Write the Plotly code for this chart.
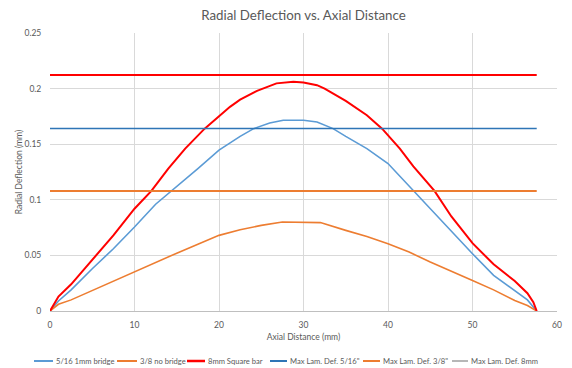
import plotly.graph_objects as go

# Measured curves (x in mm, y in mm)
x_blue = [0, 1, 2.5, 5, 7.5, 10, 12.5, 14.4, 17.5, 20, 22.5, 24.1, 26, 27.6, 30, 31.6, 33.5,
          35, 37.5, 40, 43, 45, 47.5, 50, 52.5, 55, 56.5, 57.6]
y_blue = [0, 0.009, 0.019, 0.038, 0.056, 0.0755, 0.096, 0.108, 0.128, 0.1446, 0.157, 0.164, 0.169,
          0.1716, 0.1716, 0.170, 0.164, 0.157, 0.146, 0.1326, 0.108, 0.092, 0.072, 0.0515, 0.032,
          0.0185, 0.010, 0]

x_orange = [0, 1, 2.5, 5, 7.5, 10, 12.5, 15, 17.5, 20, 22.5, 25, 27.5, 30, 32, 35, 37.5, 40,
            42.5, 45, 47.5, 50, 52.5, 55, 56.5, 57.6]
y_orange = [0, 0.006, 0.010, 0.0185, 0.027, 0.035, 0.044, 0.052, 0.060, 0.068, 0.073, 0.077,
            0.080, 0.080, 0.0795, 0.0725, 0.067, 0.0605, 0.053, 0.044, 0.036, 0.0275, 0.019,
            0.0095, 0.005, 0]

x_red = [0, 1, 2.5, 5, 7.5, 10, 12, 14, 16, 18.3, 20, 21.3, 22.5, 24.5, 26.8, 28.8, 30, 31.6,
         32.5, 35, 37.5, 39.3, 41.4, 43, 45.5, 47.5, 50, 52.5, 55, 56.5, 57.2, 57.6]
y_red = [0, 0.013, 0.024, 0.0455, 0.068, 0.092, 0.108, 0.128, 0.146, 0.164, 0.175, 0.1836, 0.190,
         0.198, 0.2047, 0.2061, 0.2055, 0.2031, 0.200, 0.189, 0.176, 0.164, 0.146, 0.130, 0.108,
         0.085, 0.061, 0.042, 0.027, 0.016, 0.008, 0]

x_limit = [0, 57.6]
max_5_16 = 0.1641
max_3_8 = 0.1079
max_8mm = 0.2122

x_ticks = [0, 10, 20, 30, 40, 50, 60]
y_ticks = [0, 0.05, 0.1, 0.15, 0.2, 0.25]
y_tick_labels = ["0", "0.05", "0.1", "0.15", "0.2", "0.25"]

legend_names = ["5/16 1mm bridge", "3/8 no bridge", "8mm Square bar",
                "Max Lam. Def. 5/16\"", "Max Lam. Def. 3/8\"", "Max Lam. Def. 8mm"]

BLUE = "#5B9BD5"
BLUE_DARK = "#2E75B6"
ORANGE = "#ED7D31"
RED = "#FF0000"
GRAY = "#A5A5A5"
TXT = "#595959"
FONT = "Lato"

# page body margin offsets the figure by 8 px; figure coords = screen px - OFF
OFF = 8
W, H = 572 - OFF, 368 - OFF
L, T = 50 - OFF, 33 - OFF
R = 572 - 557
B = H - (311 - OFF)
PW, PH = W - L - R, H - T - B

fig = go.Figure()
fig.add_trace(go.Scatter(x=x_blue, y=y_blue, mode="lines", name=legend_names[0],
                         line=dict(color=BLUE, width=1.6)))
fig.add_trace(go.Scatter(x=x_orange, y=y_orange, mode="lines", name=legend_names[1],
                         line=dict(color=ORANGE, width=1.6)))
fig.add_trace(go.Scatter(x=x_red, y=y_red, mode="lines", name=legend_names[2],
                         line=dict(color=RED, width=2)))
fig.add_trace(go.Scatter(x=x_limit, y=[max_5_16] * 2, mode="lines", name=legend_names[3],
                         line=dict(color=BLUE_DARK, width=1.6)))
fig.add_trace(go.Scatter(x=x_limit, y=[max_3_8] * 2, mode="lines", name=legend_names[4],
                         line=dict(color=ORANGE, width=2)))
fig.add_trace(go.Scatter(x=x_limit, y=[max_8mm] * 2, mode="lines", name=legend_names[5],
                         line=dict(color=RED, width=2)))

# Legend (single row, Excel style): swatch then text; positions in screen px
swatch_colors = [BLUE, ORANGE, RED, BLUE_DARK, ORANGE, GRAY]
swatch_widths = [2, 2, 2.5, 2, 2, 1.6]
swatch_px = [(34, 53), (117, 137), (187, 205), (270, 287), (363, 380), (452, 468)]
legend_y_px = 361


def px_x(p):
    return (p - OFF - L) / PW


def px_y(p):
    return (H - B - (p - OFF)) / PH


for name, col, lw, (a, b) in zip(legend_names, swatch_colors, swatch_widths, swatch_px):
    fig.add_shape(type="line", xref="paper", yref="paper", x0=px_x(a), x1=px_x(b),
                  y0=px_y(legend_y_px), y1=px_y(legend_y_px), line=dict(color=col, width=lw))
    fig.add_annotation(text=name, xref="paper", yref="paper", x=px_x(b + 1), y=px_y(legend_y_px),
                       xanchor="left", yanchor="middle", showarrow=False,
                       font=dict(size=7.6, color=TXT, family=FONT))

fig.update_layout(
    width=W, height=H,
    margin=dict(l=L, r=R, t=T, b=B, autoexpand=False),
    paper_bgcolor="white", plot_bgcolor="white",
    font=dict(family=FONT, color=TXT, size=9),
    title=dict(text="Radial Deflection vs. Axial Distance", x=(L + PW / 2) / W, xanchor="center",
               y=1 - (15 - OFF) / H, yanchor="middle",
               font=dict(size=13.3, color=TXT, family=FONT)),
    showlegend=False,
    xaxis=dict(range=[0, 60], tickvals=x_ticks, showgrid=True, gridcolor="#D9D9D9",
               gridwidth=1, zeroline=False, showline=True, linecolor="#BFBFBF",
               ticks="outside", ticklen=6, tickcolor="rgba(0,0,0,0)", automargin=False,
               tickfont=dict(size=8.5, color=TXT),
               title=dict(text="Axial Distance (mm)", font=dict(size=8.5, color=TXT),
                          standoff=4)),
    yaxis=dict(range=[0, 0.25], tickvals=y_ticks, ticktext=y_tick_labels, showgrid=True,
               gridcolor="#D9D9D9", gridwidth=1, zeroline=False, showline=False,
               ticks="outside", ticklen=6, tickcolor="rgba(0,0,0,0)", automargin=False,
               tickfont=dict(size=8.5, color=TXT),
               title=dict(text="Radial Deflection (mm)", font=dict(size=8.5, color=TXT),
                          standoff=0)),
)

fig.write_html("out.html")
